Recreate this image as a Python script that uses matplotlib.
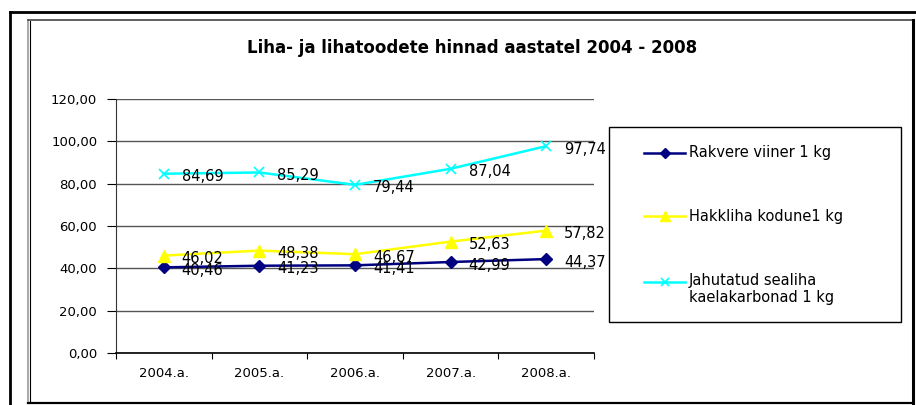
import matplotlib
matplotlib.use("Agg")
import matplotlib.pyplot as plt
from matplotlib.patches import Rectangle
from matplotlib.lines import Line2D
import numpy as np

years = ["2004.a.", "2005.a.", "2006.a.", "2007.a.", "2008.a."]
rakvere = [40.46, 41.23, 41.41, 42.99, 44.37]
hakkliha = [46.02, 48.38, 46.67, 52.63, 57.82]
jahutatud = [84.69, 85.29, 79.44, 87.04, 97.74]
names = ["Rakvere viiner 1 kg", "Hakkliha kodune1 kg",
         "Jahutatud sealiha\nkaelakarbonad 1 kg"]
title = "Liha- ja lihatoodete hinnad aastatel 2004 - 2008"

W, H = 916, 405
fig = plt.figure(figsize=(W / 100, H / 100), dpi=100)
plt.rcParams['font.family'] = ['DejaVu Sans']


def fx(px):
    return px / W


def fy(py):
    return 1 - py / H


def fig_line(xs, ys, **kw):
    fig.add_artist(Line2D(xs, ys, transform=fig.transFigure, **kw))


# outer frame
fig_line([fx(10), fx(10)], [fy(12), 0], color='black', lw=2)
fig_line([fx(10), 1], [fy(12), fy(12)], color='black', lw=2)
# inner frame
fig_line([fx(28), fx(28)], [fy(20), fy(403)], color='#999999', lw=1.2)
fig_line([fx(29.5), fx(29.5)], [fy(21), fy(402)], color='black', lw=0.8)
fig_line([fx(28), fx(913)], [fy(20), fy(20)], color='#444444', lw=1.2)
fig_line([fx(913), fx(913)], [fy(20), fy(404)], color='black', lw=2.2)
fig_line([fx(28), fx(913)], [fy(403), fy(403)], color='black', lw=1.6)

ax = fig.add_axes([fx(116), fy(353), fx(594) - fx(116), fy(99) - fy(353)])

x = np.arange(len(years))
series = [
    (rakvere, '#000080', 'D', 6, 1.0),
    (hakkliha, '#FFFF00', '^', 8, 1.0),
    (jahutatud, '#00FFFF', 'x', 7, 1.2),
]
for vals, col, mk, ms, mw in series:
    ax.plot(x, vals, color=col, marker=mk, markersize=ms, lw=1.8, mew=mw, zorder=3)
    for xi, v in zip(x, vals):
        ax.annotate(f"{v:.2f}".replace('.', ','), (xi, v), xytext=(18, -3),
                    textcoords='offset pixels', ha='left', va='center',
                    fontsize=10.5, color='black', zorder=4)

ax.set_xlim(-0.5, 4.5)
ax.set_ylim(0, 120)
yt = np.arange(0, 121, 20)
ax.set_yticks(yt)
ax.set_yticklabels([f"{v:.2f}".replace('.', ',') for v in yt], fontsize=9.5)
ax.yaxis.grid(True, color='#555555', lw=1)
ax.set_axisbelow(True)
ax.set_xticks(np.arange(-0.5, 5, 1))
ax.set_xticklabels([])
ax.set_xticks(x, minor=True)
ax.set_xticklabels(years, minor=True, fontsize=9.5)
ax.tick_params(axis='x', which='major', length=4, direction='out', color='black')
ax.tick_params(axis='x', which='minor', length=0, pad=10)
ax.tick_params(axis='y', length=6.5, direction='out', color='black', pad=7)
for s in ['top', 'right']:
    ax.spines[s].set_visible(False)
ax.spines['left'].set_color('#333333')
ax.spines['bottom'].set_color('black')
ax.spines['bottom'].set_linewidth(1.2)

fig.text(fx(472), fy(48), title, ha='center', va='center', fontsize=12, fontweight='bold')

# legend box
fig.add_artist(Rectangle((fx(609), fy(322)), fx(901) - fx(609), fy(127) - fy(322),
                         transform=fig.transFigure, fill=False, ec='black', lw=1))
ys = [153, 216, 282]
for (vals, col, mk, ms, mw), name, yy in zip(series, names, ys):
    fig_line([fx(644), fx(685)], [fy(yy), fy(yy)], color=col, lw=1.8)
    fig_line([fx(664.5)], [fy(yy)], color=col, marker=mk, markersize=ms - 1, mew=mw)
    if '\n' in name:
        fig.text(fx(689), fy(yy - 9), name, ha='left', va='top', fontsize=10.5, linespacing=1.15)
    else:
        fig.text(fx(689), fy(yy), name, ha='left', va='center', fontsize=10.5)

fig.savefig("out.png", dpi=100)
